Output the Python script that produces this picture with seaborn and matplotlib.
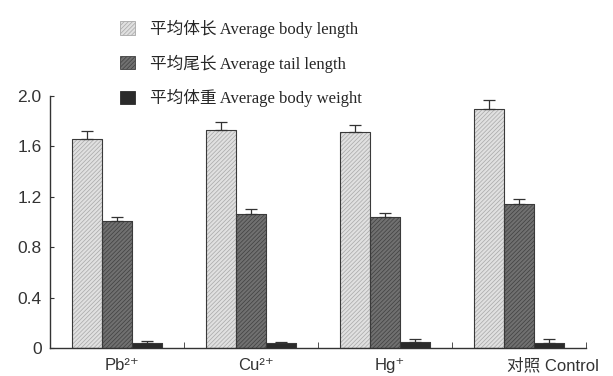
# Bar chart: body length / tail length / body weight per treatment
import numpy as np
import pandas as pd
import matplotlib
matplotlib.use('Agg')
import matplotlib.pyplot as plt
import matplotlib.transforms as mtransforms
from matplotlib.patches import Patch
import seaborn as sns

# Data
groups = ['Pb²⁺', 'Cu²⁺', 'Hg⁺', '对照 Control']
series = ['平均体长 Average body length', '平均尾长 Average tail length', '平均体重 Average body weight']
body_length = [1.655, 1.725, 1.712, 1.894]
body_length_err = [0.065, 0.063, 0.055, 0.071]
tail_length = [1.009, 1.062, 1.040, 1.141]
tail_length_err = [0.027, 0.038, 0.032, 0.042]
body_weight = [0.042, 0.040, 0.050, 0.042]
body_weight_err = [0.013, 0.008, 0.020, 0.027]

values = [body_length, tail_length, body_weight]
errors = [body_length_err, tail_length_err, body_weight_err]

df = pd.DataFrame({
    'group': groups * 3,
    'series': np.repeat(series, len(groups)),
    'value': body_length + tail_length + body_weight,
})

sns.set_style('ticks')
plt.rcParams['font.family'] = ['Liberation Sans', 'Noto Sans CJK SC', 'DejaVu Sans']
plt.rcParams['hatch.linewidth'] = 0.5

fig = plt.figure(figsize=(6.13, 3.76), dpi=100)
ax = fig.add_axes([0.0816, 0.0745, 0.8744, 0.6710])

face = ['#e0e0e0', '#707070', '#2b2b2b']
hatch_col = ['#a8a8a8', '#404040', '#2b2b2b']
hatches = ['////////', '////////', '']

sns.barplot(data=df, x='group', y='value', hue='series', hue_order=series,
            order=groups, palette=face, errorbar=None, width=0.67,
            saturation=1, legend=False, ax=ax)

bar_conts = list(ax.containers)
for i, cont in enumerate(bar_conts):
    xs, hs = [], []
    for p in cont.patches:
        p.set_hatch(hatches[i])
        p.set_edgecolor(hatch_col[i])
        p.set_linewidth(0.6)
        xs.append(p.get_x() + p.get_width() / 2)
        hs.append(p.get_height())
        # outline in dark grey on top of the hatch
        ax.add_patch(plt.Rectangle((p.get_x(), 0), p.get_width(), p.get_height(),
                                   fill=False, edgecolor='#3a3a3a', linewidth=0.8))
    err = np.array(errors[i])
    ax.errorbar(xs, hs, yerr=[np.zeros_like(err), err], fmt='none',
                ecolor='#333333', elinewidth=0.9, capsize=4, capthick=0.9)

ax.set_ylim(0, 2.0)
ax.set_xlim(-0.5, len(groups) - 0.5)
ax.set_yticks([0, 0.4, 0.8, 1.2, 1.6, 2.0])
ax.set_yticklabels(['0', '0.4', '0.8', '1.2', '1.6', '2.0'], fontsize=12.5, color='#333333')
ax.set_xticks(range(len(groups)))
ax.set_xticklabels(groups, fontsize=12, color='#333333')
ax.set_xticks(np.arange(len(groups)) + 0.5, minor=True)
ax.tick_params(axis='x', which='major', length=0, pad=7)
ax.tick_params(axis='x', which='minor', direction='in', length=4, color='#333333')
ax.tick_params(axis='y', direction='in', length=3, color='#333333', pad=6)
ax.set_xlabel('')
ax.set_ylabel('')
for s in ['top', 'right']:
    ax.spines[s].set_visible(False)
for s in ['left', 'bottom']:
    ax.spines[s].set_color('#333333')
    ax.spines[s].set_linewidth(1.0)

# shift last label to the right like the original
labs = ax.get_xticklabels()
offset = mtransforms.ScaledTranslation(34 / 100, 0, fig.dpi_scale_trans)
labs[-1].set_transform(labs[-1].get_transform() + offset)
offset2 = mtransforms.ScaledTranslation(5 / 100, 0, fig.dpi_scale_trans)
for l in labs[:-1]:
    l.set_transform(l.get_transform() + offset2)

handles = [Patch(facecolor=face[i], edgecolor=hatch_col[i], hatch=hatches[i], linewidth=0.6)
           for i in range(3)]
fig.legend(handles, series, loc='upper left', bbox_to_anchor=(0.172, 0.988),
           frameon=False, handlelength=0.85, handleheight=0.85, handletextpad=0.9,
           labelspacing=1.0,
           prop={'family': ['Liberation Serif', 'Noto Sans CJK SC'], 'size': 12})

fig.savefig('out.png', dpi=100)
